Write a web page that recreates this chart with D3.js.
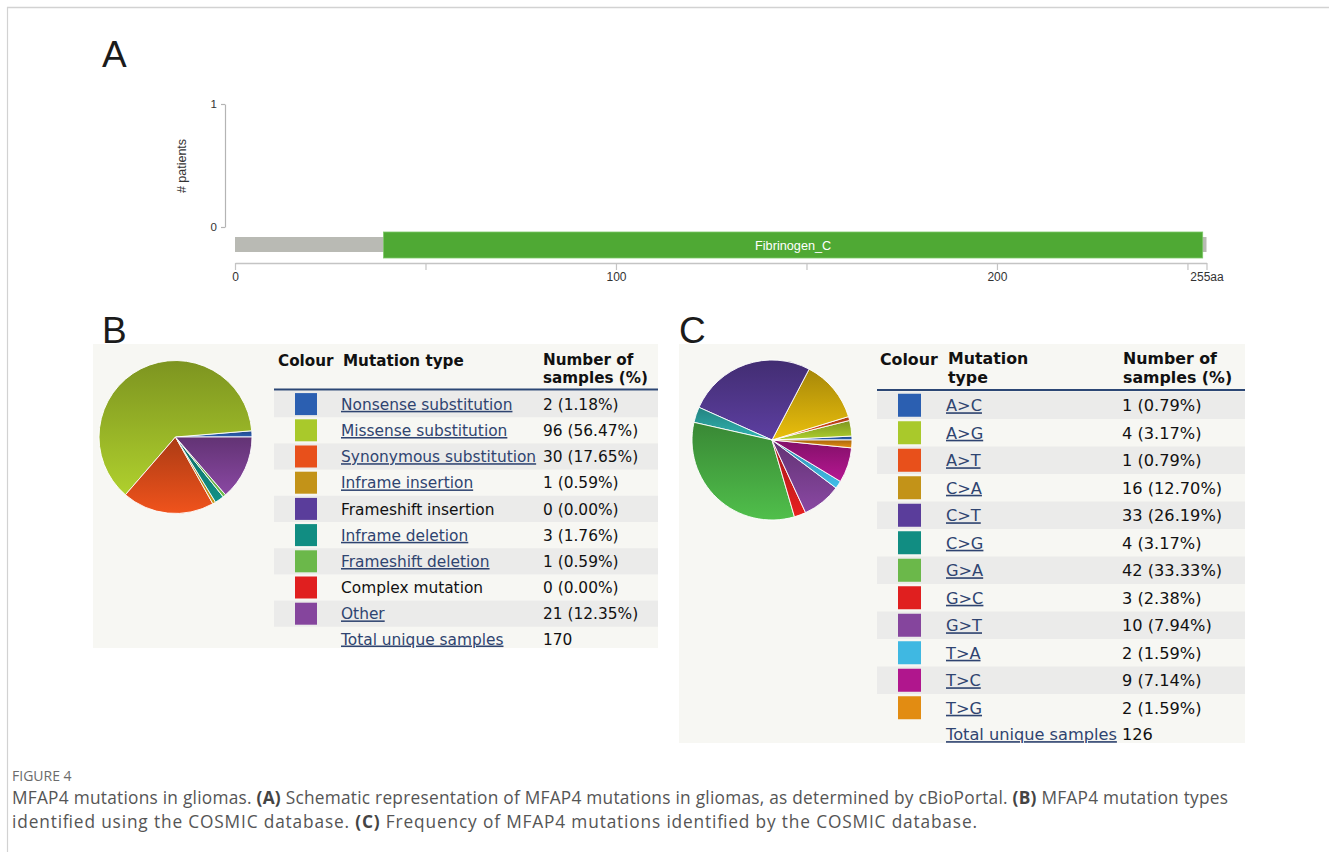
<!DOCTYPE html>
<html>
<head>
<meta charset="utf-8">
<script src="https://cdn.jsdelivr.net/npm/d3@7"></script>
<style>
  html, body { margin: 0; padding: 0; background: #ffffff; }
  svg { display: block; }
</style>
</head>
<body>
<svg id="fig" width="1329" height="852"></svg>
<script>
// ---- Panel A: protein schematic ----
const proteinLength = 255;
const domainName = "Fibrinogen_C";
const domainStart = 39;
const domainEnd = 254;
const xTickValues = [0, 50, 100, 150, 200, 250, 255];
const xTickLabels = { 0: "0", 100: "100", 200: "200", 255: "255aa" };
const yTickValues = [0, 1];

// ---- Panel B: mutation types ----
const typeLabels = ["Nonsense substitution", "Missense substitution", "Synonymous substitution",
  "Inframe insertion", "Frameshift insertion", "Inframe deletion", "Frameshift deletion",
  "Complex mutation", "Other"];
const typeCounts = [2, 96, 30, 1, 0, 3, 1, 0, 21];
const typeLinked = [true, true, true, true, false, true, true, false, true];
const typeColors = ["#2b5fb1", "#a9c92b", "#e8501b", "#c39318", "#5a3d9b", "#118d82", "#6bb84a", "#e01f1f", "#85459d"];
const typeTotal = 170;

// ---- Panel C: substitution classes ----
const subLabels = ["A>C", "A>G", "A>T", "C>A", "C>T", "C>G", "G>A", "G>C", "G>T", "T>A", "T>C", "T>G"];
const subCounts = [1, 4, 1, 16, 33, 4, 42, 3, 10, 2, 9, 2];
const subColors = ["#2b5fb1", "#a9c92b", "#e8501b", "#c39318", "#5a3d9b", "#118d82", "#6bb84a", "#e01f1f", "#85459d", "#3fb8e2", "#b0168d", "#e28c12"];
const subPieColors = ["#2b5fb1", "#a9c92b", "#e8501b", "#e2b80c", "#5a3d9b", "#2fb0ad", "#4db848", "#e01f1f", "#85459d", "#3fb8e2", "#b0168d", "#e28c12"];
const subTotal = 126;

const svg = d3.select("#fig");
svg.append("rect").attr("width", 1329).attr("height", 852).attr("fill", "#ffffff");

// outer frame (top and left rules)
svg.append("line").attr("x1", 7).attr("x2", 1329).attr("y1", 7.5).attr("y2", 7.5)
  .attr("stroke", "#d2d2d2").attr("stroke-width", 1.5);
svg.append("line").attr("x1", 7.5).attr("x2", 7.5).attr("y1", 7).attr("y2", 852)
  .attr("stroke", "#d2d2d2").attr("stroke-width", 1.2);

const defs = svg.append("defs");

// panel letters
const letterFont = "'Liberation Sans', Arial, sans-serif";
function panelLetter(txt, x, y) {
  svg.append("text").attr("x", x).attr("y", y).text(txt)
    .attr("font-family", letterFont).attr("font-size", 37).attr("fill", "#1b1b1b");
}

// ================= Panel A =================
(function drawPanelA() {
  panelLetter("A", 102, 67);
  const narrow = "'Liberation Sans Narrow', 'Liberation Sans', Arial, sans-serif";
  const x = d3.scaleLinear().domain([0, proteinLength]).range([235, 1206.5]);
  const y = d3.scaleLinear().domain([0, 1]).range([227, 104]);
  const gA = svg.append("g");

  // y axis
  const yAxis = gA.append("g").attr("transform", "translate(225,0)")
    .call(d3.axisLeft(y).tickValues(yTickValues).tickFormat(d3.format("d")).tickSize(4).tickSizeOuter(0));
  yAxis.select(".domain").attr("stroke", "#b4b4b4").attr("stroke-width", 1.2);
  yAxis.selectAll(".tick line").attr("stroke", "#b4b4b4").attr("stroke-width", 1.2);
  yAxis.selectAll(".tick text").attr("font-family", narrow).attr("font-size", 11.5)
    .attr("fill", "#333").attr("x", -8);

  gA.append("text").attr("transform", "translate(186,166) rotate(-90)")
    .attr("text-anchor", "middle").attr("font-family", narrow).attr("font-size", 12.5)
    .attr("fill", "#333").text("# patients");

  // backbone and domain
  gA.append("rect").attr("x", x(0)).attr("width", x(proteinLength) - x(0))
    .attr("y", 237).attr("height", 15).attr("fill", "#b9bab4");
  gA.append("rect").attr("x", x(domainStart)).attr("width", x(domainEnd) - x(domainStart))
    .attr("y", 232).attr("height", 26).attr("fill", "#4fa934")
    .attr("stroke", "#7cc868").attr("stroke-width", 0.8);
  gA.append("text").attr("x", (x(domainStart) + x(domainEnd)) / 2).attr("y", 249.5)
    .attr("text-anchor", "middle").attr("font-family", narrow).attr("font-size", 12.7)
    .attr("fill", "#ffffff").text(domainName);

  // x axis
  const xAxis = gA.append("g").attr("transform", "translate(0,263)")
    .call(d3.axisBottom(x).tickValues(xTickValues).tickSize(7).tickSizeOuter(0)
      .tickFormat(d => xTickLabels[d] || ""));
  xAxis.select(".domain").attr("stroke", "#c4c4c4").attr("stroke-width", 1.6);
  xAxis.selectAll(".tick line").attr("stroke", "#c4c4c4").attr("stroke-width", 1.2);
  xAxis.selectAll(".tick text").attr("font-family", narrow).attr("font-size", 12)
    .attr("fill", "#333").attr("y", 9);
})();

// ================= shared pie + table helpers =================
function drawPie(prefix, values, colors, cx, cy, r) {
  const data = values.map((v, i) => ({ v, c: colors[i], i })).filter(d => d.v > 0);
  const pie = d3.pie().sort(null).value(d => d.v)
    .startAngle(Math.PI / 2).endAngle(Math.PI / 2 - 2 * Math.PI);
  const arc = d3.arc().innerRadius(0).outerRadius(r);
  data.forEach(d => {
    const base = d3.color(d.c);
    const g = defs.append("linearGradient").attr("id", prefix + d.i)
      .attr("x1", 0).attr("y1", 0).attr("x2", 0).attr("y2", 1);
    g.append("stop").attr("offset", "0%").attr("stop-color", base.darker(0.85).formatHex());
    g.append("stop").attr("offset", "100%").attr("stop-color", base.brighter(0.1).formatHex());
  });
  svg.append("g").attr("transform", `translate(${cx},${cy})`)
    .selectAll("path").data(pie(data)).join("path")
    .attr("d", arc)
    .attr("fill", d => `url(#${prefix}${d.data.i})`)
    .attr("stroke", "#ffffff").attr("stroke-width", 0.9).attr("stroke-linejoin", "round");
}

const tableFont = "'DejaVu Sans', Verdana, sans-serif";
const linkColor = "#2f4470";

function drawTable(opts) {
  const { labels, counts, colors, linked, total, x0, x1, y0, pitch, swX, sw, labX, valX, header, fs, hfs } = opts;
  const g = svg.append("g").attr("font-family", tableFont);
  // header (two-line cells are set tight, as in the web table)
  header.forEach(h => {
    g.append("text").attr("x", h.x).attr("y", h.y).text(h.t)
      .attr("font-size", hfs).attr("font-weight", "bold").attr("fill", "#111");
  });
  g.append("line").attr("x1", x0).attr("x2", x1).attr("y1", y0 - 1.5).attr("y2", y0 - 1.5)
    .attr("stroke", "#2c4775").attr("stroke-width", 2);
  const rows = g.selectAll("g.row").data(labels).join("g").attr("class", "row")
    .attr("transform", (d, i) => `translate(0,${y0 + i * pitch})`);
  rows.filter((d, i) => i % 2 === 0).append("rect")
    .attr("x", x0).attr("width", x1 - x0).attr("y", 0).attr("height", pitch).attr("fill", "#ebebea");
  rows.append("rect").attr("x", swX).attr("y", (pitch - sw) / 2).attr("width", sw).attr("height", sw)
    .attr("fill", (d, i) => colors[i]);
  rows.append("text").attr("x", labX).attr("y", pitch / 2 + fs * 0.37).text(d => d)
    .attr("font-size", fs)
    .attr("fill", (d, i) => linked[i] ? linkColor : "#111")
    .attr("text-decoration", (d, i) => linked[i] ? "underline" : null);
  rows.append("text").attr("x", valX).attr("y", pitch / 2 + fs * 0.37)
    .text((d, i) => `${counts[i]} (${(counts[i] / total * 100).toFixed(2)}%)`)
    .attr("font-size", fs).attr("fill", "#111");
  const yt = y0 + labels.length * pitch;
  g.append("text").attr("x", labX).attr("y", yt + pitch / 2 + fs * 0.3).text("Total unique samples")
    .attr("font-size", fs).attr("fill", linkColor).attr("text-decoration", "underline");
  g.append("text").attr("x", valX).attr("y", yt + pitch / 2 + fs * 0.3).text(total)
    .attr("font-size", fs).attr("fill", "#111");
}

// ================= Panel B =================
panelLetter("B", 102, 343);
svg.append("rect").attr("x", 93).attr("y", 344).attr("width", 565).attr("height", 304).attr("fill", "#f7f7f3");
drawPie("gB", typeCounts, typeColors, 175.5, 437, 76.5);
drawTable({
  labels: typeLabels, counts: typeCounts, colors: typeColors, linked: typeLinked, total: typeTotal,
  x0: 274, x1: 658, y0: 391, pitch: 26.2, swX: 295, sw: 22, labX: 341, valX: 543, fs: 15.4, hfs: 15.2,
  header: [
    { t: "Colour", x: 278, y: 366 }, { t: "Mutation type", x: 343, y: 366 },
    { t: "Number of", x: 543, y: 364.5 }, { t: "samples (%)", x: 543, y: 382.5 }
  ]
});

// ================= Panel C =================
panelLetter("C", 679, 343);
svg.append("rect").attr("x", 679).attr("y", 344).attr("width", 566).attr("height", 399).attr("fill", "#f7f7f3");
drawPie("gC", subCounts, subPieColors, 772, 440, 80);
drawTable({
  labels: subLabels, counts: subCounts, colors: subColors, linked: subLabels.map(() => true), total: subTotal,
  x0: 877, x1: 1245, y0: 391.5, pitch: 27.5, swX: 898, sw: 23, labX: 946, valX: 1122, fs: 16.2, hfs: 15.8,
  header: [
    { t: "Colour", x: 880, y: 365 }, { t: "Mutation", x: 948, y: 364 }, { t: "type", x: 948, y: 382.5 },
    { t: "Number of", x: 1123, y: 364 }, { t: "samples (%)", x: 1123, y: 382.5 }
  ]
});

// ================= Caption =================
const capFont = "'Open Sans', 'Noto Sans', sans-serif";
svg.append("text").attr("x", 12).attr("y", 781).text("FIGURE 4")
  .attr("font-family", capFont).attr("font-size", 14).attr("fill", "#6b6b6b");
const capLines = [
  { w: 1216, parts: [["MFAP4 mutations in gliomas. ", 0], ["(A)", 1], [" Schematic representation of MFAP4 mutations in gliomas, as determined by cBioPortal. ", 0], ["(B)", 1], [" MFAP4 mutation types", 0]] },
  { w: 965, parts: [["identified using the COSMIC database. ", 0], ["(C)", 1], [" Frequency of MFAP4 mutations identified by the COSMIC database.", 0]] }
];
capLines.forEach((line, li) => {
  const t = svg.append("text").attr("x", 12).attr("y", 804 + li * 24)
    .attr("font-family", capFont).attr("font-size", 17.3).attr("fill", "#555")
    .attr("textLength", line.w).attr("lengthAdjust", "spacing");
  line.parts.forEach(([s, b]) => t.append("tspan").text(s).attr("font-weight", b ? 700 : 400)
    .attr("fill", b ? "#444" : "#555"));
});
</script>
</body>
</html>
